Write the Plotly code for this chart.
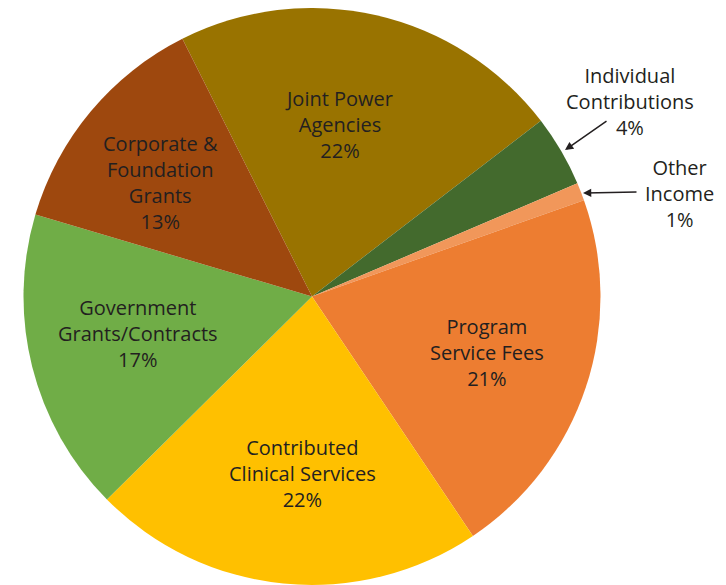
import plotly.graph_objects as go

# Data
labels = ["Joint Power Agencies", "Individual Contributions", "Other Income",
          "Program Service Fees", "Contributed Clinical Services",
          "Government Grants/Contracts", "Corporate & Foundation Grants"]
label_lines = [["Joint Power", "Agencies"], ["Individual", "Contributions"], ["Other", "Income"],
               ["Program", "Service Fees"], ["Contributed", "Clinical Services"],
               ["Government", "Grants/Contracts"], ["Corporate &", "Foundation", "Grants"]]
values = [22, 4, 1, 21, 22, 17, 13]
colors = ["#997300", "#436A2D", "#F1975A", "#ED7D31", "#FFC000", "#70AD47", "#9E480E"]

W, H = 726, 600
OFF = 8  # page body margin
FONT = "Open Sans"
FSIZE = 20
TXT = "#231F20"

def fx(px):
    return (px - OFF) / W

def fy(py):
    return 1 - (py - OFF) / H

# pie: centre (312, 296.5) on screen, radius 288.5
cx, cy, r = 312, 296.5, 288.5
fig = go.Figure(go.Pie(
    labels=labels, values=values, sort=False, direction="clockwise",
    rotation=-26.7, marker=dict(colors=colors, line=dict(width=0)),
    textinfo="none", hoverinfo="label+percent", showlegend=False,
    domain=dict(x=[fx(cx - r), fx(cx + r)], y=[fy(cy + r), fy(cy - r)]),
))

# label block centre positions in screen pixels (x, y) for each slice
label_pos = [(339, 124), (630, 101.5), (679, 193), (487, 352), (302, 473), (138, 333), (160, 182.5)]

anns = []
for lines, v, (px, py) in zip(label_lines, values, label_pos):
    anns.append(dict(
        x=fx(px), y=fy(py), xref="paper", yref="paper",
        text="<br>".join(lines + [f"{v}%"]), showarrow=False,
        xanchor="center", yanchor="middle", align="center",
        font=dict(family=FONT, size=FSIZE, color=TXT),
    ))

# arrows (head, tail) in screen pixels
arrows = [((565, 150), (608, 120)), ((583, 193), (638, 192))]
for (hx, hy), (tx, ty) in arrows:
    anns.append(dict(
        x=fx(hx), y=fy(hy), xref="paper", yref="paper",
        ax=tx - hx, ay=ty - hy, axref="pixel", ayref="pixel",
        text="", showarrow=True, arrowhead=2, arrowsize=1.1, arrowwidth=1.5,
        arrowcolor=TXT,
    ))

fig.update_layout(
    width=W, height=H, margin=dict(l=0, r=0, t=0, b=0),
    paper_bgcolor="white", plot_bgcolor="white",
    annotations=anns,
)

fig.write_html("out.html")
